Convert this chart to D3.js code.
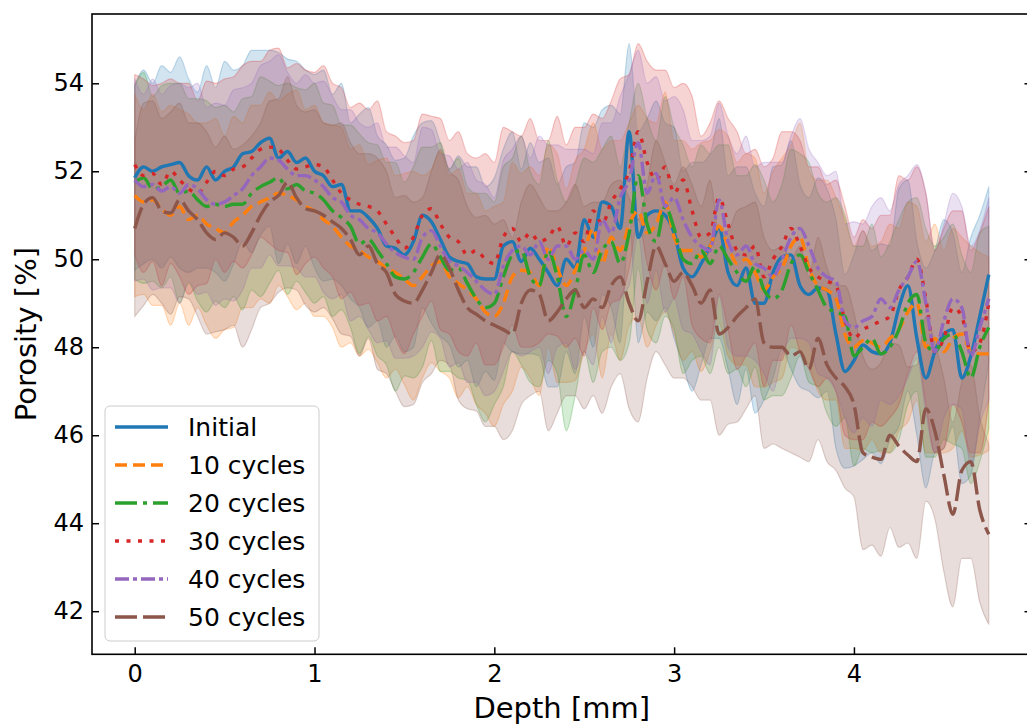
<!DOCTYPE html>
<html>
<head>
<meta charset="utf-8">
<script src="https://cdn.jsdelivr.net/npm/d3@7"></script>
<style>
	body { margin: 0; background: #fff; }
	text { font-family: "DejaVu Sans", sans-serif; fill: #000; }
</style>
</head>
<body>
<svg id="chart" width="1027" height="724"></svg>
<script>
// Porosity vs depth, mean +/- std for each cycle count

var depth = [0,0.05,0.1,0.15,0.2,0.25,0.3,0.35,0.4,0.45,0.5,0.55,0.6,0.65,0.7,0.75,0.8,0.85,0.9,0.95,
	1,1.05,1.1,1.15,1.2,1.25,1.3,1.35,1.4,1.45,1.5,1.55,1.6,1.65,1.7,1.75,1.8,1.85,1.9,1.95,
	2,2.05,2.1,2.15,2.2,2.25,2.3,2.35,2.4,2.45,2.5,2.55,2.6,2.65,2.7,2.75,2.8,2.85,2.9,2.95,
	3,3.05,3.1,3.15,3.2,3.25,3.3,3.35,3.4,3.45,3.5,3.55,3.6,3.65,3.7,3.75,3.8,3.85,3.9,3.95,
	4,4.05,4.1,4.15,4.2,4.25,4.3,4.35,4.4,4.45,4.5,4.55,4.6,4.65,4.7,4.75];

var labels = ['Initial', '10 cycles', '20 cycles', '30 cycles', '40 cycles', '50 cycles'];

var meanInitial = [51.85,52.1,52.0,52.1,52.15,52.2,51.9,51.8,52.1,51.8,
	52.0,52.1,52.4,52.45,52.65,52.75,52.3,52.45,52.2,52.3,
	52.0,51.9,51.65,51.7,51.1,51.1,50.95,50.7,50.3,50.25,
	50.1,50.4,51.0,50.85,50.45,50.05,49.95,49.9,49.6,49.55,
	49.55,50.3,50.4,49.95,50.25,50.0,49.7,49.4,50.0,49.8,
	50.9,50.5,51.3,51.2,50.7,52.9,50.5,51.0,51.1,51.0,
	50.6,49.8,49.6,49.9,50.3,50.7,49.7,49.4,49.8,49.0,
	49.0,49.7,50.05,50.1,49.4,49.2,49.35,49.3,48.3,47.45,
	47.7,48.05,47.9,47.85,48.1,48.9,49.4,48.2,47.3,47.9,
	48.3,48.4,47.3,47.8,48.7,49.65];

var mean10 = [51.45,51.3,51.35,51.15,51.0,51.2,50.9,51.0,50.8,50.7,
	50.6,50.85,51.0,51.2,51.3,51.4,51.5,51.45,51.35,51.2,
	51.1,50.9,50.75,50.5,50.3,50.2,50.05,49.95,49.8,49.7,
	49.55,49.4,49.6,49.85,49.95,49.6,49.45,49.3,49.1,48.8,
	48.7,49.0,49.6,49.75,49.7,49.4,50.3,49.8,49.4,49.75,
	50.2,50.7,49.9,50.5,50.2,50.8,51.1,50.6,50.8,51.3,
	50.5,50.2,50.2,50.05,50.3,50.75,50.3,49.9,50.0,49.7,
	49.3,49.6,49.8,50.3,50.5,49.8,49.4,49.3,49.1,48.3,
	48.0,48.15,48.1,48.0,48.2,48.4,48.8,49.0,48.0,48.2,
	47.9,48.2,48.3,47.9,47.85,47.85];

var mean20 = [51.75,51.85,51.6,51.65,51.8,51.5,51.55,51.35,51.2,51.25,
	51.2,51.25,51.25,51.5,51.65,51.75,51.85,51.6,51.7,51.55,
	51.5,51.35,51.1,50.95,50.75,50.35,50.45,50.2,49.9,49.6,
	49.55,49.7,50.05,50.35,50.05,49.75,49.8,49.45,49.1,48.9,
	49.0,49.6,50.1,50.2,49.6,49.4,50.2,49.6,48.7,49.3,
	50.1,49.7,50.2,50.4,49.9,50.6,51.9,50.8,50.4,51.2,
	50.7,50.0,49.9,50.2,49.9,50.3,50.0,49.7,49.5,49.85,
	49.3,49.1,49.3,49.9,50.1,49.7,49.3,48.9,48.8,48.7,
	47.8,48.0,48.2,47.85,48.0,48.4,49.0,49.2,48.1,47.9,
	48.2,48.3,47.9,47.3,48.0,48.45];

var mean30 = [52.15,51.9,51.95,51.7,52.0,51.8,51.6,51.5,51.75,52.0,
	51.9,52.05,52.1,52.3,52.5,52.55,52.5,52.25,52.05,52.1,
	52.15,52.1,51.8,51.5,51.35,51.25,51.2,51.1,50.8,50.5,
	50.25,50.5,51.0,51.15,50.8,50.5,50.4,50.1,50.2,50.0,
	49.9,50.5,50.7,50.4,50.6,50.4,50.5,50.75,50.3,50.6,
	50.4,51.1,50.8,51.3,51.6,52.0,52.9,52.2,51.8,52.1,
	51.5,51.8,51.1,50.5,50.6,51.4,50.8,50.2,50.1,50.3,
	49.6,50.0,50.3,50.7,50.3,49.8,49.6,49.5,49.4,48.6,
	48.2,48.4,48.5,48.6,48.7,49.3,49.6,50.0,49.1,47.9,
	48.2,48.9,48.7,47.9,48.1,49.0];

var mean40 = [51.8,51.65,51.7,51.55,51.65,51.5,51.7,51.6,51.35,51.25,
	51.3,51.45,51.6,51.9,52.1,52.3,52.25,52.05,51.9,51.9,
	51.8,51.65,51.4,51.3,51.0,50.9,50.7,50.6,50.35,50.15,
	50.05,50.0,50.5,50.65,50.3,49.95,49.85,49.7,49.5,49.3,
	49.2,49.85,50.2,50.3,50.1,50.4,50.0,50.3,50.3,50.0,
	50.2,50.0,50.9,50.6,51.4,51.8,52.65,51.5,51.95,51.2,
	51.4,50.9,50.5,50.3,50.2,51.35,50.4,50.1,50.3,49.9,
	49.8,49.6,50.0,50.5,50.7,50.3,49.8,49.6,49.5,48.6,
	48.45,48.6,48.7,49.1,48.9,49.3,49.6,49.95,49.0,47.9,
	48.6,49.1,48.9,47.8,48.45,49.1];

var mean50 = [50.7,51.25,51.4,51.1,51.05,51.35,51.1,50.9,50.6,50.45,
	50.6,50.5,50.3,50.6,51.0,51.3,51.45,51.75,51.4,51.15,
	51.1,51.0,50.85,50.7,50.45,50.1,50.3,49.9,49.7,49.2,
	49.05,49.0,49.3,49.7,50.1,49.8,49.3,48.9,48.75,48.6,
	48.5,48.4,48.3,49.0,49.3,49.2,48.6,48.8,49.1,49.3,
	48.9,49.1,48.9,49.4,49.6,49.0,48.6,49.5,50.3,49.9,
	49.5,49.7,49.4,49.0,49.3,48.3,48.45,48.7,48.9,49.1,
	48.1,48.0,48.0,47.8,47.9,47.5,48.2,47.6,47.3,47.1,
	46.7,45.6,45.5,45.45,46.0,45.75,45.55,45.4,46.6,46.1,
	45.1,44.2,45.2,45.4,44.3,43.75];

// standard deviation (half width of the shaded band)
var stdInitial = [2.1,2.2,2.0,2.3,2.1,2.4,2.2,2.0,2.3,2.1,
	2.5,2.2,2.0,2.3,2.1,2.0,2.4,2.1,2.3,2.0,
	2.2,2.4,2.1,2.3,2.0,2.2,2.5,2.1,2.3,2.0,
	2.2,2.4,2.1,2.3,2.2,2.0,2.4,2.2,2.5,2.1,
	2.3,2.2,2.5,2.1,2.4,2.2,2.6,2.3,2.1,2.4,
	2.2,2.5,2.1,2.3,2.6,2.0,2.4,2.2,2.5,2.1,
	2.4,2.2,2.6,2.3,2.1,2.5,2.2,2.7,2.3,2.5,
	2.2,2.4,2.1,2.6,2.3,2.2,2.5,2.3,2.6,2.2,
	2.4,2.6,2.3,2.5,2.2,2.7,2.4,2.2,2.5,2.3,
	2.6,2.2,2.4,2.7,2.3,2.0];

var std10 = [2.3,2.1,2.4,2.2,2.5,2.2,2.4,2.1,2.3,2.5,
	2.2,2.4,2.1,2.3,2.2,2.4,2.1,2.3,2.5,2.2,
	2.4,2.2,2.3,2.5,2.2,2.4,2.1,2.3,2.5,2.2,
	2.4,2.6,2.3,2.2,2.5,2.3,2.6,2.2,2.4,2.3,
	2.5,2.3,2.6,2.2,2.4,2.5,2.3,2.6,2.2,2.5,
	2.3,2.4,2.6,2.2,2.5,2.3,2.4,2.6,2.3,2.5,
	2.2,2.5,2.3,2.6,2.4,2.2,2.5,2.3,2.4,2.6,
	2.2,2.4,2.5,2.3,2.6,2.2,2.4,2.5,2.3,2.6,
	2.3,2.5,2.2,2.4,2.6,2.3,2.5,2.2,2.4,2.6,
	2.3,2.5,2.2,2.4,2.3,2.2];

var std20 = [2.2,2.4,2.1,2.3,2.2,2.5,2.1,2.3,2.4,2.2,
	2.3,2.1,2.4,2.2,2.5,2.3,2.1,2.4,2.2,2.3,
	2.5,2.2,2.4,2.1,2.3,2.5,2.2,2.4,2.3,2.6,
	2.2,2.4,2.5,2.2,2.6,2.3,2.5,2.2,2.4,2.6,
	2.3,2.5,2.2,2.6,2.4,2.3,2.5,2.2,2.6,2.4,
	2.2,2.5,2.3,2.4,2.2,2.5,2.1,2.4,2.3,2.5,
	2.3,2.6,2.2,2.4,2.5,2.3,2.6,2.2,2.4,2.3,
	2.5,2.2,2.4,2.6,2.3,2.5,2.2,2.4,2.6,2.3,
	2.5,2.3,2.6,2.2,2.4,2.5,2.3,2.2,2.6,2.4,
	2.3,2.5,2.2,2.4,2.6,2.3];

var std30 = [2.05,2.2,2.0,2.3,2.1,2.2,2.4,2.1,2.3,2.0,
	2.2,2.1,2.3,2.2,2.0,2.2,2.3,2.1,2.4,2.2,
	2.1,2.3,2.2,2.4,2.1,2.3,2.2,2.5,2.1,2.3,
	2.4,2.2,2.3,2.1,2.4,2.2,2.5,2.3,2.1,2.4,
	2.3,2.5,2.2,2.4,2.6,2.3,2.2,2.5,2.3,2.4,
	2.6,2.2,2.4,2.3,2.5,2.2,2.0,2.3,2.5,2.2,
	2.4,2.2,2.6,2.3,2.5,2.2,2.4,2.7,2.3,2.2,
	2.5,2.3,2.6,2.2,2.4,2.3,2.5,2.2,2.4,2.6,
	2.3,2.5,2.2,2.4,2.3,2.6,2.2,2.1,2.4,2.3,
	2.5,2.2,2.4,2.3,2.5,2.2];

var std40 = [2.3,2.1,2.4,2.2,2.3,2.5,2.2,2.4,2.1,2.3,
	2.2,2.4,2.3,2.1,2.3,2.2,2.4,2.2,2.1,2.3,
	2.2,2.4,2.3,2.1,2.4,2.2,2.3,2.5,2.2,2.4,
	2.3,2.2,2.5,2.3,2.1,2.4,2.2,2.5,2.3,2.4,
	2.2,2.4,2.3,2.5,2.2,2.4,2.6,2.3,2.2,2.5,
	2.3,2.4,2.2,2.5,2.3,2.4,2.1,2.5,2.2,2.4,
	2.3,2.5,2.2,2.4,2.6,2.2,2.4,2.3,2.5,2.2,
	2.4,2.6,2.2,2.3,2.5,2.2,2.4,2.3,2.5,2.2,
	2.4,2.2,2.5,2.3,2.2,2.4,2.3,2.2,2.5,2.3,
	2.2,2.4,2.3,2.5,2.2,2.3];

var std50 = [2.0,2.3,2.2,2.1,2.3,2.2,2.0,2.2,2.3,2.1,
	2.2,2.0,2.3,2.2,2.1,2.3,2.2,2.4,2.1,2.2,
	2.3,2.1,2.2,2.4,2.2,2.3,2.1,2.4,2.3,2.2,
	2.4,2.3,2.1,2.3,2.4,2.2,2.5,2.3,2.2,2.4,
	2.3,2.5,2.2,2.3,2.4,2.2,2.5,2.3,2.2,2.4,
	2.3,2.2,2.4,2.3,2.2,2.4,2.3,2.2,2.4,2.3,
	2.2,2.4,2.3,2.2,2.5,2.3,2.2,2.4,2.3,2.2,
	2.4,2.2,2.3,2.2,2.4,2.1,2.3,2.2,2.1,2.3,
	2.1,2.2,2.0,2.2,2.1,2.3,2.0,2.2,2.1,2.0,
	2.2,2.1,2.0,2.2,2.1,2.05];

var xTicks = [0, 1, 2, 3, 4];
var yTicks = [42, 44, 46, 48, 50, 52, 54];

var colors = ['#1f77b4', '#ff7f0e', '#2ca02c', '#d62728', '#9467bd', '#8c564b'];
var dashes = [null, '12,6', '22,6,4,6', '4,7.5', '14,4,4,4', '22,6'];

var means = [meanInitial, mean10, mean20, mean30, mean40, mean50];
var stds = [stdInitial, std10, std20, std30, std40, std50];

var series = labels.map(function(name, k) {
	return {
		name: name,
		color: colors[k],
		dash: dashes[k],
		values: depth.map(function(d, i) {
			return {depth: d, mean: means[k][i], std: stds[k][i]};
		})
	};
});

// Plot frame (right spine falls just outside the picture)
var frame = {left: 92, top: 14, right: 1031.5, bottom: 654.3};

var x = d3.scaleLinear().domain([-0.2375, 4.9875]).range([frame.left, frame.right]);
var y = d3.scaleLinear().domain([41.02, 55.575]).range([frame.bottom, frame.top]);

var svg = d3.select('#chart');

svg.append('rect')
	.attr('width', 1027).attr('height', 724)
	.attr('fill', '#fff');

var area = d3.area()
	.x(function(d) { return x(d.depth); })
	.y0(function(d) { return y(d.mean - d.std); })
	.y1(function(d) { return y(d.mean + d.std); })
	.curve(d3.curveMonotoneX);

var line = d3.line()
	.x(function(d) { return x(d.depth); })
	.y(function(d) { return y(d.mean); })
	.curve(d3.curveMonotoneX);

// Shaded bands first, lines on top
svg.append('g').attr('class', 'bands')
	.selectAll('path')
	.data(series)
	.enter().append('path')
	.attr('d', function(s) { return area(s.values); })
	.attr('fill', function(s) { return s.color; })
	.attr('fill-opacity', 0.2)
	.attr('stroke', function(s) { return s.color; })
	.attr('stroke-opacity', 0.25)
	.attr('stroke-width', 1.2);

svg.append('g').attr('class', 'lines')
	.selectAll('path')
	.data(series)
	.enter().append('path')
	.attr('d', function(s) { return line(s.values); })
	.attr('fill', 'none')
	.attr('stroke', function(s) { return s.color; })
	.attr('stroke-width', 3.4)
	.attr('stroke-dasharray', function(s) { return s.dash; });

// Axes with inward ticks
var xAxis = svg.append('g')
	.attr('transform', 'translate(0,' + frame.bottom + ')')
	.call(d3.axisBottom(x).tickValues(xTicks).tickSize(-7).tickPadding(11)
		.tickFormat(d3.format('d')));

var yAxis = svg.append('g')
	.attr('transform', 'translate(' + frame.left + ',0)')
	.call(d3.axisLeft(y).tickValues(yTicks).tickSize(-7).tickPadding(8)
		.tickFormat(d3.format('d')));

var yAxisRight = svg.append('g')
	.attr('transform', 'translate(' + frame.right + ',0)')
	.call(d3.axisRight(y).tickValues(yTicks).tickSize(-7).tickFormat(''));

[xAxis, yAxis, yAxisRight].forEach(function(g) {
	g.select('.domain').remove();
	g.selectAll('.tick line').attr('stroke', '#000').attr('stroke-width', 1.5);
	g.selectAll('.tick text')
		.style('font-family', '"DejaVu Sans", sans-serif')
		.style('font-size', '24px')
		.attr('fill', '#000');
});

svg.append('rect')
	.attr('x', frame.left).attr('y', frame.top)
	.attr('width', frame.right - frame.left).attr('height', frame.bottom - frame.top)
	.attr('fill', 'none')
	.attr('stroke', '#000')
	.attr('stroke-width', 1.6);

// Axis titles
svg.append('text')
	.attr('x', (frame.left + frame.right) / 2)
	.attr('y', 718)
	.attr('text-anchor', 'middle')
	.style('font-size', '29px')
	.text('Depth [mm]');

svg.append('text')
	.attr('transform', 'translate(36,' + ((frame.top + frame.bottom) / 2) + ') rotate(-90)')
	.attr('text-anchor', 'middle')
	.style('font-size', '29px')
	.text('Porosity [%]');

// Legend
var legend = svg.append('g').attr('class', 'legend');

legend.append('rect')
	.attr('x', 105).attr('y', 406)
	.attr('width', 214).attr('height', 235)
	.attr('rx', 5)
	.attr('fill', '#fff')
	.attr('fill-opacity', 0.8)
	.attr('stroke', '#cccccc')
	.attr('stroke-width', 1);

var item = legend.selectAll('g.item')
	.data(series)
	.enter().append('g')
	.attr('class', 'item')
	.attr('transform', function(d, i) { return 'translate(0,' + (427 + i * 38) + ')'; });

item.append('line')
	.attr('x1', 115).attr('x2', 168)
	.attr('stroke', function(s) { return s.color; })
	.attr('stroke-width', 3.4)
	.attr('stroke-dasharray', function(s) { return s.dash; });

item.append('text')
	.attr('x', 188)
	.attr('dy', '0.35em')
	.style('font-size', '25px')
	.text(function(s) { return s.name; });
</script>
</body>
</html>
